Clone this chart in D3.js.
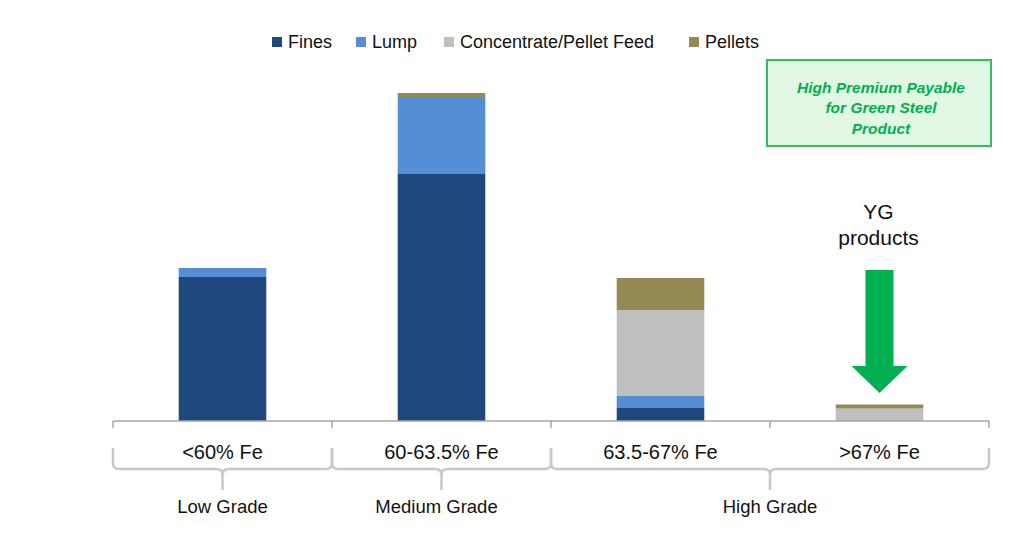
<!DOCTYPE html>
<html><head><meta charset="utf-8">
<script src="https://cdn.jsdelivr.net/npm/d3@7"></script>
<style>body{margin:0;background:#fff}svg{display:block}</style>
</head><body>
<svg id="c" width="1024" height="533"></svg>
<script>
// ---- data ----
const categories = ["<60% Fe", "60-63.5% Fe", "63.5-67% Fe", ">67% Fe"];
const seriesNames = ["Fines", "Lump", "Concentrate/Pellet Feed", "Pellets"];
const fines       = [144, 247, 13, 0];
const lump        = [9, 76, 12, 0];
const concentrate = [0, 0, 86, 12.5];
const pellets     = [0, 5, 32, 4];
const groupLabels = ["Low Grade", "Medium Grade", "High Grade"];
const groupSpans  = [[0, 0], [1, 1], [2, 3]];
const noteLines   = ["High Premium Payable", "for Green Steel", "Product"];
const calloutLines = ["YG", "products"];

const colors = ["#1f497d", "#558ed5", "#bfbfbf", "#948a54"];
const svg = d3.select("#c");
const font = "'Liberation Sans', Arial, sans-serif";

const x = d3.scaleBand().domain(categories).range([113, 989]).paddingInner(0.6).paddingOuter(0.3);
const y = d3.scaleLinear().domain([0, 330]).range([421, 91]);

const rows = categories.map((c, i) => ({cat: c, Fines: fines[i], Lump: lump[i], "Concentrate/Pellet Feed": concentrate[i], Pellets: pellets[i]}));
const stack = d3.stack().keys(seriesNames)(rows);

svg.append("g").selectAll("g").data(stack).join("g")
  .attr("fill", (d, i) => colors[i])
  .selectAll("rect").data(d => d.filter(p => p[1] - p[0] > 0)).join("rect")
  .attr("x", d => x(d.data.cat))
  .attr("width", x.bandwidth())
  .attr("y", d => y(d[1]))
  .attr("height", d => y(d[0]) - y(d[1]));

// axis line with ticks at band boundaries
const step = x.step();
const edges = categories.map(c => x(c) - (step - x.bandwidth()) / 2);
edges.push(edges[edges.length - 1] + step);
const ax = svg.append("g").attr("stroke", "#a6a6a6").attr("stroke-width", 1.5).attr("fill", "none");
ax.append("line").attr("x1", edges[0]).attr("x2", edges[edges.length - 1]).attr("y1", y(0)).attr("y2", y(0));
edges.forEach(e => ax.append("line").attr("x1", e).attr("x2", e).attr("y1", y(0)).attr("y2", y(0) + 7));

// category labels
svg.append("g").selectAll("text").data(categories).join("text")
  .attr("x", d => x(d) + x.bandwidth() / 2).attr("y", 459)
  .attr("text-anchor", "middle").attr("font-family", font).attr("font-size", 20).attr("fill", "#111")
  .text(d => d);

// braces
const yt = 448, yh = 469, yb = 490, r = 6;
const br = svg.append("g").attr("stroke", "#c8c8c8").attr("stroke-width", 2.5).attr("fill", "none");
groupSpans.forEach((s, i) => {
  const x0 = edges[s[0]], x1 = edges[s[1] + 1], xm = (x0 + x1) / 2;
  const p = d3.path();
  p.moveTo(x0, yt); p.lineTo(x0, yh - r); p.quadraticCurveTo(x0, yh, x0 + r, yh);
  p.lineTo(xm - r, yh); p.quadraticCurveTo(xm, yh, xm, yh + r); p.lineTo(xm, yb);
  p.moveTo(xm, yh + r); p.quadraticCurveTo(xm, yh, xm + r, yh);
  p.lineTo(x1 - r, yh); p.quadraticCurveTo(x1, yh, x1, yh - r); p.lineTo(x1, yt);
  br.append("path").attr("d", p.toString());
  svg.append("text").attr("x", xm - (i === 1 ? 5 : 0)).attr("y", 512.5).attr("text-anchor", "middle")
    .attr("font-family", font).attr("font-size", 18.5).attr("fill", "#111").text(groupLabels[i]);
});

// legend
const legendX = [272, 356, 444, 689];
const lg = svg.append("g");
seriesNames.forEach((n, i) => {
  lg.append("rect").attr("x", legendX[i]).attr("y", 37).attr("width", 10).attr("height", 10).attr("fill", colors[i]);
  lg.append("text").attr("x", legendX[i] + 16).attr("y", 48).attr("font-family", font).attr("font-size", 18)
    .attr("fill", "#111").text(n);
});

// green note box
svg.append("rect").attr("x", 767).attr("y", 60).attr("width", 224).attr("height", 86)
  .attr("fill", "#e2f6e4").attr("stroke", "#2fbf5c").attr("stroke-width", 2);
svg.append("g").selectAll("text").data(noteLines).join("text")
  .attr("x", 881).attr("y", (d, i) => 92.5 + i * 20.5).attr("text-anchor", "middle")
  .attr("font-family", font).attr("font-size", 15.5).attr("font-weight", "bold").attr("font-style", "italic")
  .attr("fill", "#00b050").text(d => d);

// callout
const cx = x(">67% Fe") + x.bandwidth() / 2;
svg.append("g").selectAll("text").data(calloutLines).join("text")
  .attr("x", cx - 1).attr("y", (d, i) => 219 + i * 26).attr("text-anchor", "middle")
  .attr("font-family", font).attr("font-size", 21).attr("fill", "#111").text(d => d);
const arrow = d3.path();
arrow.moveTo(cx - 14, 270); arrow.lineTo(cx + 14, 270); arrow.lineTo(cx + 14, 366); arrow.lineTo(cx + 28, 366);
arrow.lineTo(cx, 393); arrow.lineTo(cx - 28, 366); arrow.lineTo(cx - 14, 366); arrow.closePath();
svg.append("path").attr("d", arrow.toString()).attr("fill", "#00b050");
</script>
</body></html>
